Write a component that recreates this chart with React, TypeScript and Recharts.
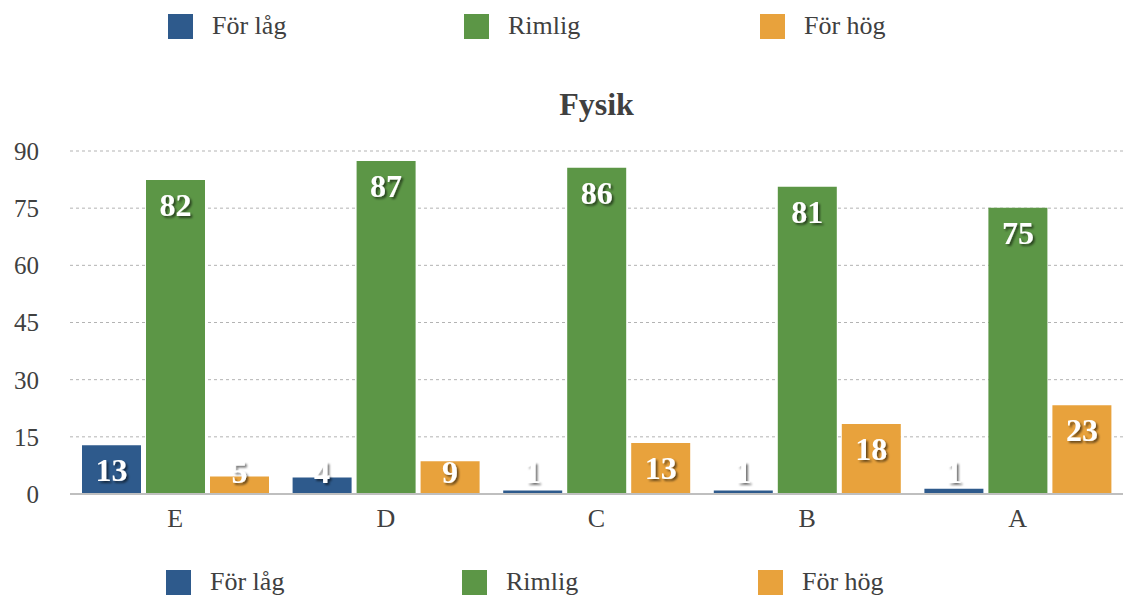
import React from 'react';
import { BarChart, Bar, XAxis, YAxis, CartesianGrid, LabelList } from 'recharts';

const categories = ['E', 'D', 'C', 'B', 'A'];
const forLag = [12.8, 4.3, 0.9, 0.9, 1.4];
const rimlig = [82.4, 87.4, 85.6, 80.6, 75.1];
const forHog = [4.6, 8.6, 13.4, 18.4, 23.3];
const yTicks = [0, 15, 30, 45, 60, 75, 90];

const seriesNames = ['För låg', 'Rimlig', 'För hög'];
const colors = ['#2E5A8C', '#5C9646', '#E8A23C'];

const FONT = '"Liberation Serif", "Times New Roman", serif';

const data = categories.map((c, i) => ({
  name: c,
  lag: forLag[i],
  rimlig: rimlig[i],
  hog: forHog[i],
}));

const renderLabel = (props: any) => {
  const x = Number(props.x);
  const y = Number(props.y);
  const w = Number(props.width);
  const h = Number(props.height);
  const cy = Math.min(y + 25, y + h - 22);
  return (
    <text
      x={x + w / 2}
      y={cy}
      textAnchor="middle"
      dominantBaseline="central"
      fill="#ffffff"
      fontWeight="bold"
      fontSize={32}
      fontFamily={FONT}
      filter="url(#lblShadow)"
    >
      {Math.round(Number(props.value))}
    </text>
  );
};

const LegendRow: React.FC<{ top: number; left: number }> = ({ top, left }) => (
  <div style={{ position: 'absolute', top, left, height: 26, width: 800 }}>
    {seriesNames.map((n, i) => (
      <div
        key={n}
        style={{ position: 'absolute', left: i * 296, top: 0, display: 'flex', alignItems: 'center', height: 26 }}
      >
        <span style={{ display: 'inline-block', width: 25, height: 25, background: colors[i] }} />
        <span style={{ marginLeft: 19, fontFamily: FONT, fontSize: 26, color: '#404040', lineHeight: '26px' }}>{n}</span>
      </div>
    ))}
  </div>
);

export default function App() {
  return (
    <div style={{ position: 'absolute', left: 0, top: 0, width: 1123, height: 601, background: '#fff' }}>
      <svg width={0} height={0} style={{ position: 'absolute' }}>
        <defs>
          <filter id="lblShadow" x="-50%" y="-50%" width="200%" height="200%">
            <feDropShadow dx={2} dy={2} stdDeviation={1.3} floodColor="#000" floodOpacity={0.55} />
          </filter>
        </defs>
      </svg>
      <LegendRow top={13} left={168} />
      <div
        style={{
          position: 'absolute',
          top: 84,
          left: 70,
          width: 1053,
          textAlign: 'center',
          fontFamily: FONT,
          fontWeight: 'bold',
          fontSize: 32,
          lineHeight: '40px',
          color: '#404040',
        }}
      >
        Fysik
      </div>
      <BarChart
        width={1123}
        height={601}
        data={data}
        margin={{ top: 151, right: 0, bottom: 77, left: 0 }}
        barCategoryGap={12}
        barGap={5}
      >
        <CartesianGrid vertical={false} stroke="#b3b3b3" strokeDasharray="3 3" />
        <XAxis
          dataKey="name"
          axisLine={{ stroke: '#bfbfbf', strokeWidth: 2 }}
          tickLine={false}
          tickSize={0}
          tickMargin={15}
          height={30}
          tick={{ fill: '#404040', fontSize: 26, fontFamily: FONT }}
        />
        <YAxis
          width={70}
          domain={[0, 90]}
          ticks={yTicks}
          axisLine={false}
          tickLine={false}
          tickSize={0}
          tickMargin={31}
          tick={{ fill: '#404040', fontSize: 25, fontFamily: FONT }}
        />
        <Bar dataKey="lag" name={seriesNames[0]} fill={colors[0]} isAnimationActive={false}>
          <LabelList dataKey="lag" content={renderLabel} />
        </Bar>
        <Bar dataKey="rimlig" name={seriesNames[1]} fill={colors[1]} isAnimationActive={false}>
          <LabelList dataKey="rimlig" content={renderLabel} />
        </Bar>
        <Bar dataKey="hog" name={seriesNames[2]} fill={colors[2]} isAnimationActive={false}>
          <LabelList dataKey="hog" content={renderLabel} />
        </Bar>
      </BarChart>
      <LegendRow top={569} left={166} />
    </div>
  );
}
